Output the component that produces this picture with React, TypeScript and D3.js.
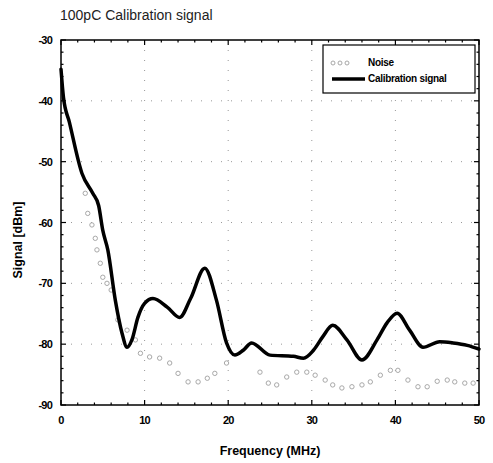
import React from "react";
import * as d3 from "d3";

const calFreq = [0, 0.3, 1, 2.5, 3.8, 4.5, 5.0, 5.6, 6.5, 7.3, 7.9, 8.5, 9.2, 10.0, 11.0, 12.7, 14.2, 15.5, 17.2, 18.6, 19.8, 20.8, 21.8, 22.8, 25, 27.8, 29, 30.2, 31.3, 32.5, 34.2, 36, 37.8, 39, 40.2, 41.7, 43.3, 45.3, 46.9, 48.6, 50];
const calSignal = [-34.8, -39.5, -43.5, -51.9, -55.2, -57.2, -61.3, -64.5, -72.8, -78.2, -80.5, -79.2, -75.6, -73.3, -72.5, -73.9, -75.6, -72.5, -67.5, -72.8, -79.8, -81.8, -81.0, -79.8, -81.8, -82.0, -82.3, -81.0, -78.8, -76.9, -79.3, -82.6, -79.3, -76.5, -74.9, -77.7, -80.5, -79.6, -79.8, -80.2, -80.8];

const noiseFreq = [2.9, 3.2, 3.7, 4.1, 4.3, 4.7, 5.0, 5.5, 6.0, 6.8, 7.9, 8.9, 9.5, 10.6, 11.8, 13.0, 14.0, 15.2, 16.4, 17.5, 18.4, 19.8, 23.8, 24.8, 25.8, 27.0, 28.2, 29.4, 30.4, 31.6, 32.5, 33.6, 34.8, 36.0, 37.0, 38.2, 39.4, 40.3, 41.5, 42.7, 43.8, 45.0, 46.2, 47.1, 48.3, 49.3];
const noiseSignal = [-55.2, -58.5, -60.4, -62.6, -64.5, -66.7, -69.0, -70.0, -71.1, -76.0, -77.7, -79.3, -81.5, -82.1, -82.3, -83.1, -84.8, -86.2, -86.2, -85.6, -84.8, -83.1, -84.6, -86.4, -86.7, -85.4, -84.6, -84.6, -85.1, -85.9, -86.7, -87.2, -87.0, -86.7, -86.2, -85.1, -84.3, -84.3, -85.9, -87.0, -87.0, -86.1, -85.9, -86.2, -86.4, -86.4];

const xTicks = [0, 10, 20, 30, 40, 50];
const yTicks = [-30, -40, -50, -60, -70, -80, -90];
const xMinor = d3.range(0, 51, 2);
const yMinor = d3.range(-90, -29, 2);

export default function App() {
  const W = 493, H = 463;
  const L = 61, R = 479, T = 40, B = 405;
  const x = d3.scaleLinear().domain([0, 50]).range([L, R]);
  const y = d3.scaleLinear().domain([-90, -30]).range([B, T]);
  const calPts: [number, number][] = calFreq.map((f, i) => [f, calSignal[i]]);
  const line = d3.line<[number, number]>().x(d => x(d[0])).y(d => y(d[1])).curve(d3.curveMonotoneX);
  const font = "'Liberation Sans', Arial, sans-serif";
  return (
    <svg width={W} height={H} style={{ position: "absolute", left: 0, top: 0, background: "#fff" }} fontFamily={font}>
      <rect x={0} y={0} width={W} height={H} fill="#fff" />
      <text x={60} y={20} fontSize={14} fill="#222">100pC Calibration signal</text>
      {/* grid */}
      {xTicks.slice(1, -1).map(t => (
        <line key={"gx" + t} x1={x(t)} x2={x(t)} y1={T} y2={B} stroke="#999" strokeWidth={1} strokeDasharray="1 9" />
      ))}
      {yTicks.slice(1, -1).map(t => (
        <line key={"gy" + t} x1={L} x2={R} y1={y(t)} y2={y(t)} stroke="#999" strokeWidth={1} strokeDasharray="1 9" />
      ))}
      {/* noise markers */}
      {noiseFreq.map((f, i) => (
        <circle key={"n" + i} cx={x(f)} cy={y(noiseSignal[i])} r={2.2} fill="none" stroke="#a8a8a8" strokeWidth={1} />
      ))}
      {/* calibration line */}
      <path d={line(calPts) || ""} fill="none" stroke="#000" strokeWidth={3.5} strokeLinejoin="round" strokeLinecap="round" />
      {/* frame */}
      <rect x={L} y={T} width={R - L} height={B - T} fill="none" stroke="#000" strokeWidth={1.5} />
      {/* minor ticks */}
      {xMinor.map(t => (
        <g key={"mx" + t}>
          <line x1={x(t)} x2={x(t)} y1={B} y2={B - (t % 10 === 0 ? 5 : 2.5)} stroke="#000" strokeWidth={1.2} />
          <line x1={x(t)} x2={x(t)} y1={T} y2={T + (t % 10 === 0 ? 5 : 2.5)} stroke="#000" strokeWidth={1.2} />
        </g>
      ))}
      {yMinor.map(t => (
        <g key={"my" + t}>
          <line x1={L} x2={L + (t % 10 === 0 ? 5 : 2.5)} y1={y(t)} y2={y(t)} stroke="#000" strokeWidth={1.2} />
          <line x1={R} x2={R - (t % 10 === 0 ? 5 : 2.5)} y1={y(t)} y2={y(t)} stroke="#000" strokeWidth={1.2} />
        </g>
      ))}
      {/* tick labels */}
      {yTicks.map(t => (
        <text key={"yl" + t} x={52} y={y(t) + 4} fontSize={11} fontWeight="bold" textAnchor="end" letterSpacing={-0.8}>{t}</text>
      ))}
      {xTicks.map(t => (
        <text key={"xl" + t} x={x(t)} y={424} fontSize={11} fontWeight="bold" textAnchor="middle" letterSpacing={-0.8}>{t}</text>
      ))}
      <text x={270} y={455} fontSize={12.5} fontWeight="bold" textAnchor="middle">Frequency (MHz)</text>
      <text transform={`translate(22,${240}) rotate(-90)`} fontSize={12.5} fontWeight="bold" textAnchor="middle">Signal [dBm]</text>
      {/* legend */}
      <rect x={323} y={45} width={152} height={48} fill="#fff" stroke="#000" strokeWidth={1.2} />
      {[333, 340, 347].map((cx, i) => (
        <circle key={"lm" + i} cx={cx} cy={63} r={2} fill="none" stroke="#a8a8a8" strokeWidth={1} />
      ))}
      <text x={368} y={66} fontSize={10} fontWeight="bold" letterSpacing={-0.3}>Noise</text>
      <line x1={332} x2={365} y1={79} y2={79} stroke="#000" strokeWidth={3.5} />
      <text x={368} y={82} fontSize={10} fontWeight="bold" letterSpacing={-0.3}>Calibration signal</text>
    </svg>
  );
}
